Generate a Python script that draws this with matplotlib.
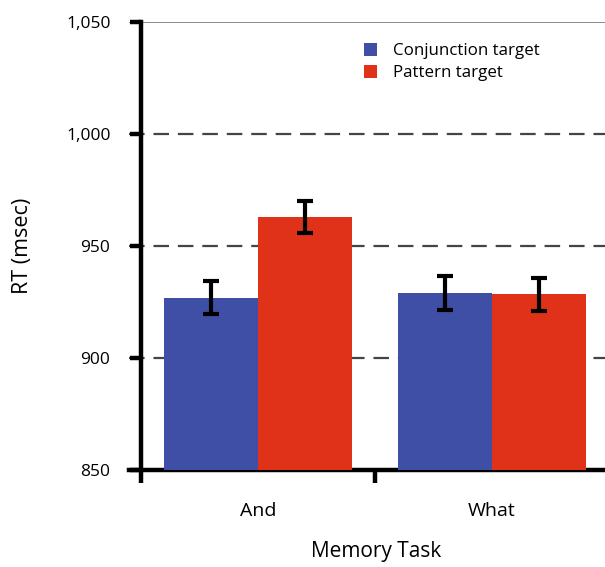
import matplotlib
matplotlib.use("Agg")
import matplotlib.pyplot as plt
import numpy as np

plt.rcParams['font.family'] = ['Open Sans', 'DejaVu Sans']

# Data
tasks = ["And", "What"]
series = ["Conjunction target", "Pattern target"]
conj_rt = [927, 929]
pattern_rt = [963, 928.5]
conj_err = [7.3, 7.4]
pattern_err = [7.3, 7.4]
y_ticks = [850, 900, 950, 1000, 1050]
y_tick_labels = ["850", "900", "950", "1,000", "1,050"]

blue = "#3F4FA6"
red = "#E03219"

W, H = 605, 567
fig = plt.figure(figsize=(W / 100, H / 100), dpi=100)

# axes span in pixels (right edge runs past the figure edge)
left_px, right_px = 129, 609
top_px, bottom_px = 22, 470
ax = fig.add_axes([left_px / W, 1 - bottom_px / H,
                   (right_px - left_px) / W, (bottom_px - top_px) / H])

x0 = -12 / 234
ax.set_xlim(x0, 2.0)
ax.set_ylim(850, 1050)

centers = np.arange(len(tasks)) + 0.5
bw = 0.4
ax.bar(centers - bw / 2, conj_rt, width=bw, color=blue,
       label=series[0], zorder=3)
ax.bar(centers + bw / 2, pattern_rt, width=bw, color=red,
       label=series[1], zorder=3)
eb = dict(fmt="none", ecolor="black", elinewidth=3, capsize=6, capthick=3, zorder=4)
ax.errorbar(centers - bw / 2, conj_rt, yerr=conj_err, **eb)
ax.errorbar(centers + bw / 2, pattern_rt, yerr=pattern_err, **eb)

# dashed reference lines
for v in [900, 950, 1000]:
    ax.axhline(v, color="#444444", lw=1.6, dashes=(7, 4), zorder=1)
ax.axhline(1050, color="#777777", lw=1.2, zorder=1)

# spines
for s in ["top", "right"]:
    ax.spines[s].set_visible(False)
ax.spines["left"].set_position(("data", 0))
ax.spines["left"].set_linewidth(3.2)
ax.spines["bottom"].set_linewidth(3.2)

ax.set_yticks(y_ticks)
ax.set_yticklabels(y_tick_labels)
ax.tick_params(axis="y", direction="out", length=8, width=3.2, pad=14,
               labelsize=12.5, colors="black")

ax.set_xticks([0, 1, 2])
ax.set_xticklabels(["", "", ""])
ax.tick_params(axis="x", which="major", direction="out", length=9, width=3.2)
ax.set_xticks(centers, minor=True)
ax.set_xticklabels(tasks, minor=True)
ax.tick_params(axis="x", which="minor", length=0, pad=23, labelsize=14)

ax.set_ylabel("RT (msec)", fontsize=15.5)
ax.yaxis.set_label_coords(-96 / (right_px - left_px), 0.5)
fig.text(376 / W, 1 - 552 / H, "Memory Task", fontsize=15,
         ha="center", va="center")

leg = ax.legend(loc="upper left",
                bbox_to_anchor=((357 - left_px) / (right_px - left_px), (bottom_px - 36) / (bottom_px - top_px)),
                frameon=False, fontsize=12.2, handlelength=0.8, handleheight=0.8,
                handletextpad=0.95, labelspacing=0.35, borderaxespad=0)

fig.savefig("out.png", dpi=100)
